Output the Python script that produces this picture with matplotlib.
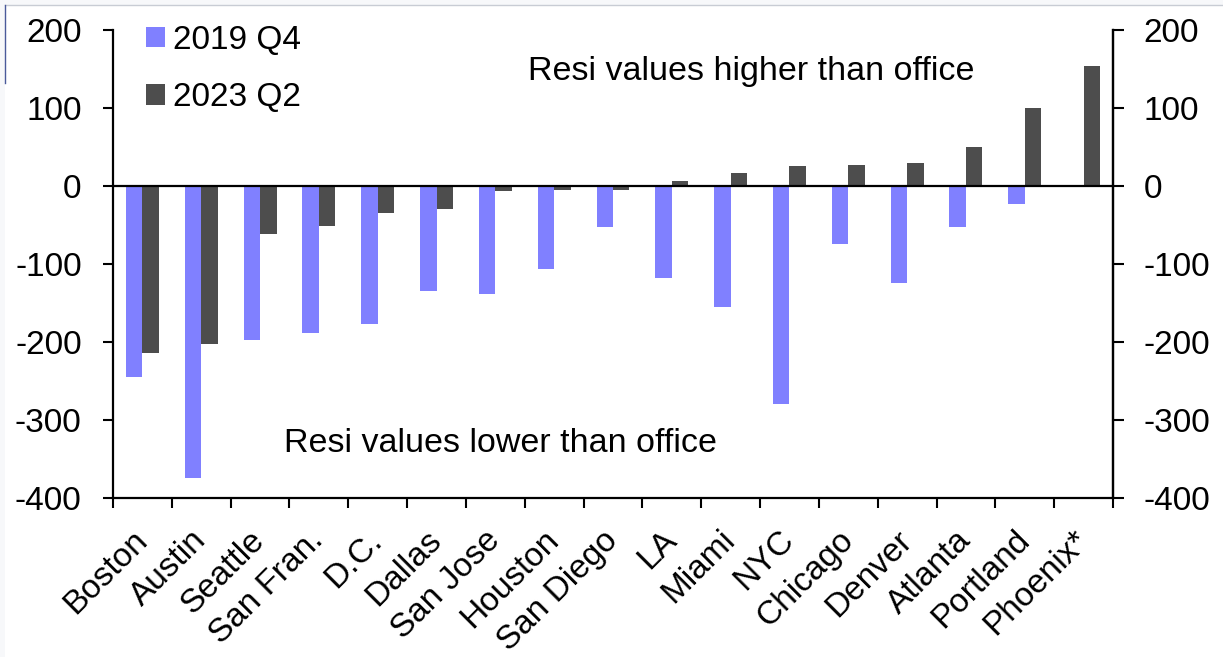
import matplotlib
matplotlib.use("Agg")
import matplotlib.pyplot as plt
import numpy as np
from matplotlib.lines import Line2D
from matplotlib.patches import Rectangle
from matplotlib.ticker import FixedLocator

plt.rcParams['font.family'] = ['Liberation Sans', 'DejaVu Sans']

cities = ["Boston", "Austin", "Seattle", "San Fran.", "D.C.", "Dallas", "San Jose",
          "Houston", "San Diego", "LA", "Miami", "NYC", "Chicago", "Denver",
          "Atlanta", "Portland", "Phoenix*"]
q4_2019 = [-245, -375, -197, -189, -177, -134, -138, -107, -52, -118, -155, -279,
           -75, -124, -53, -23, np.nan]
q2_2023 = [-214, -202, -62, -51, -35, -30, -6, -5, -5, 7, 17, 25, 27, 29, 50, 100, 154]
yticks = [-400, -300, -200, -100, 0, 100, 200]

FS = 24
W, H = 1223, 657
fig = plt.figure(figsize=(W / 100, H / 100), dpi=100)
fig.patch.set_facecolor("#F7F8FA")
fig.add_artist(Rectangle((5 / W, 0), 1, 1 - 5 / H, transform=fig.transFigure,
                         facecolor="white", edgecolor="none", zorder=-10))
fig.add_artist(Line2D([5 / W, 1], [1 - 5 / H, 1 - 5 / H], color="#C8CCD4", lw=1))
fig.add_artist(Line2D([5 / W, 5 / W], [1 - 5 / H, 1 - 83 / H], color="#4A5A9A", lw=1))

ax = fig.add_axes([113 / W, 1 - 498 / H, 1000 / W, 468 / H])
ax.set_facecolor("none")

x = np.arange(len(cities))
w = 0.28
c1, c2 = "#8080FF", "#4D4D4D"
ax.bar(x - w / 2, q4_2019, width=w, color=c1, label="2019 Q4")
ax.bar(x + w / 2, q2_2023, width=w, color=c2, label="2023 Q2")

ax.set_xlim(-0.5, len(cities) - 0.5)
ax.set_ylim(-400, 200)
ax.axhline(0, color="black", lw=1.6, zorder=3)

ax.set_yticks(yticks)
ax.set_yticklabels([str(t) for t in yticks], fontsize=FS)
ax.tick_params(axis="y", direction="out", length=7.5, width=1.5, pad=15)
ax.set_xticks(x)
ax.set_xticklabels(cities, rotation=45, ha="right", va="center",
                   rotation_mode="anchor", fontsize=FS)
ax.tick_params(axis="x", which="major", length=0, pad=27)
ax.xaxis.set_minor_locator(FixedLocator(np.arange(len(cities) + 1) - 0.5))
ax.tick_params(axis="x", which="minor", direction="out", length=7, width=1.5)

for s in ["left", "bottom", "right"]:
    ax.spines[s].set_linewidth(1.6)
ax.spines["top"].set_visible(False)

ax2 = ax.twinx()
ax2.set_ylim(-400, 200)
ax2.set_yticks(yticks)
ax2.set_yticklabels([str(t) for t in yticks], fontsize=FS)
ax2.tick_params(axis="y", direction="out", length=8, width=1.5, pad=14)
for s in ["left", "bottom", "top"]:
    ax2.spines[s].set_visible(False)
ax2.spines["right"].set_linewidth(1.6)

ax.legend(loc="upper left", bbox_to_anchor=(0.02, 1.04), frameon=False,
          fontsize=FS, handlelength=0.55, handleheight=0.55, handletextpad=0.25,
          labelspacing=0.8, borderaxespad=0)

ax.text(0.638, 0.912, "Resi values higher than office", transform=ax.transAxes,
        fontsize=24.5, ha="center", va="center")
ax.text(0.387, 0.117, "Resi values lower than office", transform=ax.transAxes,
        fontsize=24.5, ha="center", va="center")

fig.savefig("out.png", dpi=100, facecolor=fig.get_facecolor())
